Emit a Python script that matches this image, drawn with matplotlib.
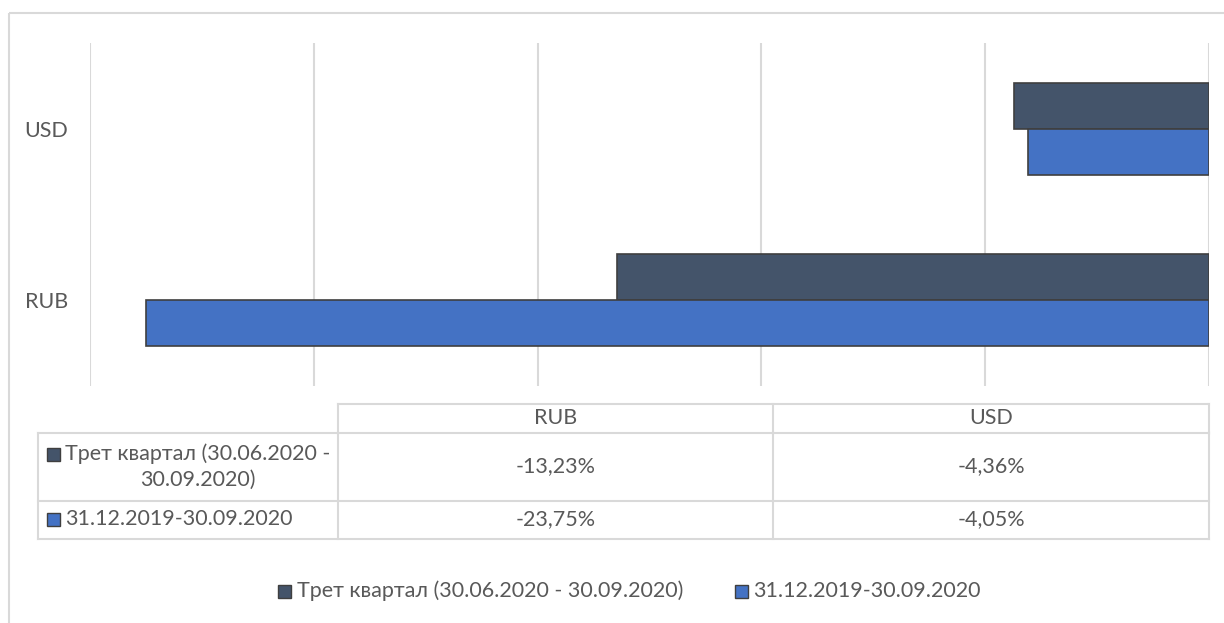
import matplotlib
matplotlib.use("Agg")
from matplotlib import pyplot as plt
from matplotlib.patches import Rectangle
import numpy as np

plt.rcParams['font.family'] = ['Lato', 'DejaVu Sans']

currencies = ["RUB", "USD"]
series_names = ["Трет квартал (30.06.2020 - 30.09.2020)", "31.12.2019-30.09.2020"]
q3_change = [-13.23, -4.36]
ytd_change = [-23.75, -4.05]
x_ticks = [-25, -20, -15, -10, -5, 0]

dark = "#44546A"
blue = "#4472C4"
edge = "#3F3F3F"
grid = "#D9D9D9"
txt = "#595959"
fs = 15.5

W, H = 1224, 623
fig = plt.figure(figsize=(W / 100, H / 100), dpi=100)

# overlay in pixel coordinates for frame and data table
ov = fig.add_axes([0, 0, 1, 1])
ov.set_xlim(0, W)
ov.set_ylim(H, 0)
ov.axis("off")
ov.add_patch(Rectangle((9, 13), W + 20, H + 20, fill=False, edgecolor=grid, lw=1.5))

# bar chart
ax = fig.add_axes([90 / W, (H - 386) / H, (1209 - 90) / W, 343 / H])
y = np.arange(len(currencies))
h = 0.269
ax.barh(y + h / 2, q3_change, height=h, color=dark, edgecolor=edge, linewidth=1.2, zorder=3)
ax.barh(y - h / 2, ytd_change, height=h, color=blue, edgecolor=edge, linewidth=1.2, zorder=3)
ax.set_xlim(x_ticks[0], x_ticks[-1])
ax.set_ylim(-0.5, 1.5)
ax.set_xticks(x_ticks)
ax.set_xticklabels([])
ax.set_yticks(y)
ax.set_yticklabels(currencies, color=txt, fontsize=fs)
ax.tick_params(length=0)
ax.tick_params(axis="y", pad=16)
ax.xaxis.grid(True, color=grid, lw=1.5, zorder=0)
for s in ax.spines.values():
    s.set_visible(False)

# data table under the chart
col_x = [38, 338, 773, 1209]
row_y = [404, 433, 501, 539]
lc = dict(color=grid, lw=1.5)
# header row (no top-left cell)
ov.plot([col_x[1], col_x[3]], [row_y[0], row_y[0]], **lc)
for x in col_x[1:]:
    ov.plot([x, x], [row_y[0], row_y[1]], **lc)
for yy in row_y[1:]:
    ov.plot([col_x[0], col_x[3]], [yy, yy], **lc)
for x in col_x:
    ov.plot([x, x], [row_y[1], row_y[3]], **lc)

text_y = [466, 519]
for j, cur in enumerate(currencies):
    cx = (col_x[j + 1] + col_x[j + 2]) / 2
    ov.text(cx, 418, cur, ha="center", va="center", color=txt, fontsize=fs)
    for i, vals in enumerate([q3_change, ytd_change]):
        label = f"{vals[j]:.2f}%".replace(".", ",")
        ov.text(cx, text_y[i], label, ha="center", va="center", color=txt, fontsize=fs)

# row headers with legend keys
ov.add_patch(Rectangle((47, 448), 13, 13, facecolor=dark, edgecolor=edge, lw=1))
ov.text(65, 454, "Трет квартал (30.06.2020 -", ha="left", va="center", color=txt, fontsize=fs)
ov.text(198, 480, "30.09.2020)", ha="center", va="center", color=txt, fontsize=fs)
ov.add_patch(Rectangle((47, 513), 13, 13, facecolor=blue, edgecolor=edge, lw=1))
ov.text(65, 519, series_names[1], ha="left", va="center", color=txt, fontsize=fs)

# legend
ov.add_patch(Rectangle((278, 585), 13, 13, facecolor=dark, edgecolor=edge, lw=1))
ov.text(297, 591, series_names[0], ha="left", va="center", color=txt, fontsize=fs)
ov.add_patch(Rectangle((735, 585), 13, 13, facecolor=blue, edgecolor=edge, lw=1))
ov.text(753, 591, series_names[1], ha="left", va="center", color=txt, fontsize=fs)

fig.savefig("out.png", dpi=100)
